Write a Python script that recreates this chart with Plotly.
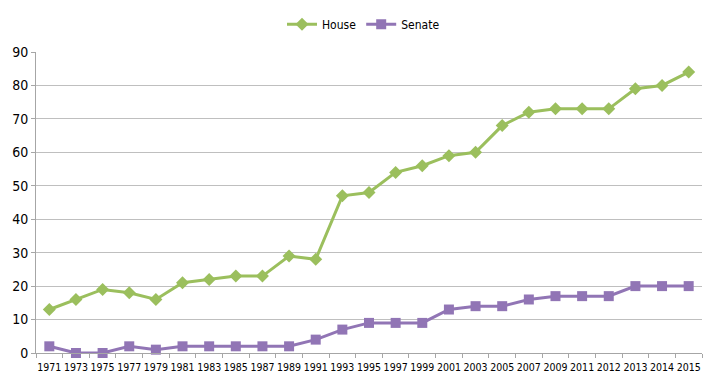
import plotly.graph_objects as go

years = ["1971", "1973", "1975", "1977", "1979", "1981", "1983", "1985", "1987", "1989",
         "1991", "1993", "1995", "1997", "1999", "2001", "2003", "2005", "2007", "2009",
         "2011", "2012", "2013", "2014", "2015"]
house = [13, 16, 19, 18, 16, 21, 22, 23, 23, 29, 28, 47, 48, 54, 56, 59, 60, 68, 72, 73,
         73, 73, 79, 80, 84]
senate = [2, 0, 0, 2, 1, 2, 2, 2, 2, 2, 4, 7, 9, 9, 9, 13, 14, 14, 16, 17, 17, 17, 20, 20, 20]
y_ticks = [0, 10, 20, 30, 40, 50, 60, 70, 80, 90]

green = "#9BBF5D"
purple = "#9175B5"
font_family = "DejaVu Sans Condensed, Liberation Sans, sans-serif"

fig = go.Figure()
fig.add_trace(go.Scatter(x=years, y=house, name="House", mode="lines+markers",
                         line=dict(color=green, width=3),
                         marker=dict(symbol="diamond", size=10, color=green),
                         cliponaxis=False))
fig.add_trace(go.Scatter(x=years, y=senate, name="Senate", mode="lines+markers",
                         line=dict(color=purple, width=3),
                         marker=dict(symbol="square", size=10, color=purple),
                         cliponaxis=False))

fig.update_layout(
    width=711, height=375,
    margin=dict(l=28, r=17, t=44, b=30, autoexpand=False),
    paper_bgcolor="white", plot_bgcolor="white",
    font=dict(family=font_family, size=12, color="#000000"),
    showlegend=True,
    legend=dict(orientation="h", x=0.5, xanchor="center", xref="container",
                y=0.957, yanchor="middle", yref="container",
                font=dict(size=12), itemwidth=30, traceorder="normal"),
    xaxis=dict(type="category", showgrid=False, showline=True, linecolor="#a6a6a6",
               linewidth=1, ticks="outside", tickson="boundaries", ticklen=4,
               tickcolor="#a6a6a6", tickfont=dict(size=10.5), tickangle=0,
               ticklabelstandoff=4, range=[-0.5, len(years) - 0.5]),
    yaxis=dict(range=[0, 90], tickvals=y_ticks, showgrid=True, gridcolor="#bfbfbf",
               gridwidth=1, showline=True, linecolor="#a6a6a6", linewidth=1,
               ticks="outside", ticklen=4, tickcolor="#a6a6a6", zeroline=False,
               tickfont=dict(size=14), ticksuffix="   "),
    shapes=[dict(type="line", xref="paper", yref="paper", x0=1.0225, x1=1.0225,
                 y0=-0.2, y1=1.2, line=dict(color="#bfbfbf", width=1))],
)

fig.write_html("out.html")
